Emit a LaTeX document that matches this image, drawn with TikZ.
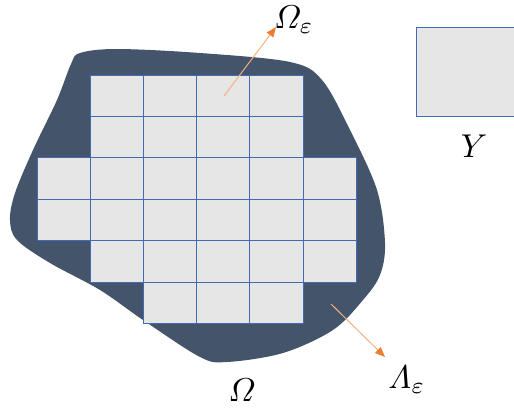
\documentclass[tikz,border=0pt]{standalone}
\usepackage{amsmath}
\usetikzlibrary{arrows.meta}
\definecolor{blobc}{RGB}{68,84,106}
\definecolor{cellfill}{RGB}{230,230,230}
\definecolor{celledge}{RGB}{68,106,180}
\definecolor{arrline}{RGB}{244,177,131}
\definecolor{arrhead}{RGB}{237,125,49}
\tikzset{
  cell/.style={fill=cellfill,draw=celledge,line width=1pt},
  lbl/.style={inner sep=0pt,scale=3.3},
  pointer/.style={draw=arrline,line width=1pt,-{Triangle[length=10pt,width=8pt,fill=arrhead,color=arrhead]}}
}
\begin{document}
\begin{tikzpicture}[x=1pt,y=-1pt]
\useasboundingbox (0,0) rectangle (514,409);
% domain
\fill[blobc] plot[smooth cycle,tension=0.55] coordinates {
 (80,53) (117,49) (200,53) (290,62) (322,80) (350,130) (377,190) (385,243)
 (380,275) (363,300) (333,330) (283,353) (227,362) (200,357) (143,320)
 (100,290) (50,263) (17,240) (10,220) (15,193) (33,150) (57,100) (71,64)};
% cells
\def\colx{{37,90,143,196,249,303,356}}
\def\rowy{{76,117,158,199,240,282,323}}
\foreach \r/\a/\b in {0/1/5,1/1/5,2/0/6,3/0/6,4/1/6,5/2/5}{
  \pgfmathtruncatemacro{\last}{\b-1}
  \foreach \c in {\a,...,\last}{
    \pgfmathsetmacro{\xa}{\colx[\c]}
    \pgfmathsetmacro{\xb}{\colx[\c+1]}
    \pgfmathsetmacro{\ya}{\rowy[\r]}
    \pgfmathsetmacro{\yb}{\rowy[\r+1]}
    \draw[cell] (\xa,\ya) rectangle (\xb,\yb);
  }
}
% reference cell Y
\draw[cell] (416,28) rectangle (520,117);
% labels
\node[lbl] (omeps) at (294,20) {$\varOmega_{\varepsilon}$};
\node[lbl] (lameps) at (407,380) {$\varLambda_{\varepsilon}$};
\node[lbl] (om) at (242,390) {$\varOmega$};
\node[lbl] (ylab) at (474,146) {$Y$};
% pointers
\coordinate (p1) at (224,96);
\coordinate (p1e) at (276,27);
\coordinate (p2) at (331,304);
\coordinate (p2e) at (385,357);
\draw[pointer] (p1) -- (p1e);
\draw[pointer] (p2) -- (p2e);
\end{tikzpicture}
\end{document}
